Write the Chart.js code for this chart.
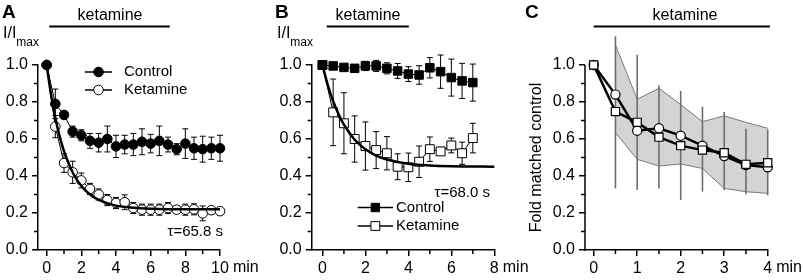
<!DOCTYPE html>
<html>
<head>
<meta charset="utf-8">
<script src="https://cdn.jsdelivr.net/npm/chart.js@4.4.1/dist/chart.umd.min.js"></script>
<style>
  body { margin: 0; background: #fff; }
  #wrap { position: relative; width: 803px; height: 280px; }
  #wrap canvas { position: absolute; left: 0; top: 0; }
</style>
</head>
<body>
<div id="wrap">
  <canvas id="chartA" width="803" height="280"></canvas>
  <canvas id="chartB" width="803" height="280"></canvas>
  <canvas id="chartC" width="803" height="280"></canvas>
</div>
<script>
// ---- Panel A: 10 min recording ----
const timeA = [0, 0.5, 1, 1.5, 2, 2.5, 3, 3.5, 4, 4.5, 5, 5.5, 6, 6.5, 7, 7.5, 8, 8.5, 9, 9.5, 10];
const ctrlA = [1.0, 0.79, 0.73, 0.64, 0.62, 0.59, 0.58, 0.60, 0.56, 0.57, 0.57, 0.585, 0.575, 0.59, 0.57, 0.545, 0.575, 0.55, 0.545, 0.55, 0.55];
const ctrlAErr = [0, 0.08, 0.02, 0.03, 0.03, 0.04, 0.05, 0.07, 0.06, 0.05, 0.06, 0.07, 0.05, 0.08, 0.04, 0.03, 0.08, 0.06, 0.07, 0.06, 0.07];
const ketA = [1.0, 0.667, 0.47, 0.42, 0.376, 0.33, 0.30, 0.27, 0.254, 0.258, 0.227, 0.218, 0.218, 0.218, 0.227, 0.218, 0.218, 0.22, 0.198, 0.215, 0.21];
const ketAErr = [0, 0.06, 0.05, 0.06, 0.04, 0.03, 0.03, 0.03, 0.03, 0.04, 0.03, 0.03, 0.03, 0.03, 0.03, 0.02, 0.03, 0.03, 0.04, 0.02, 0.02];
const fitTimeA = [0, 0.25, 0.5, 0.75, 1, 1.5, 2, 2.5, 3, 4, 5, 6, 8, 10];
const fitA = [1.0, 0.841, 0.714, 0.614, 0.534, 0.419, 0.346, 0.300, 0.271, 0.240, 0.228, 0.223, 0.220, 0.220];
const xTicksA = [0, 2, 4, 6, 8, 10];
const xMinorA = [1, 3, 5, 7, 9];

// ---- Panel B: 8 min recording ----
const timeB = [0, 0.5, 1, 1.5, 2, 2.5, 3, 3.5, 4, 4.5, 5, 5.5, 6, 6.5, 7];
const ctrlB = [1.0, 0.995, 0.987, 0.982, 0.995, 0.995, 0.982, 0.968, 0.951, 0.946, 0.985, 0.964, 0.932, 0.914, 0.905];
const ctrlBErr = [0.01, 0.015, 0.015, 0.02, 0.025, 0.03, 0.03, 0.04, 0.04, 0.05, 0.055, 0.09, 0.1, 0.095, 0.1];
const ketB = [1.0, 0.744, 0.685, 0.60, 0.562, 0.54, 0.523, 0.45, 0.447, 0.477, 0.545, 0.533, 0.565, 0.523, 0.605];
const ketBErr = [0, 0.18, 0.165, 0.125, 0.13, 0.1, 0.09, 0.07, 0.077, 0.085, 0.066, 0.015, 0.04, 0.06, 0.08];
const fitTimeB = [0, 0.25, 0.5, 0.75, 1, 1.5, 2, 2.5, 3, 4, 5, 6, 8];
const fitB = [1.0, 0.891, 0.804, 0.734, 0.678, 0.596, 0.544, 0.510, 0.489, 0.466, 0.457, 0.453, 0.450];
const xTicksB = [0, 2, 4, 6, 8];
const xMinorB = [1, 3, 5, 7];

// ---- Panel C: fold matched control ----
const timeC = [0, 0.5, 1, 1.5, 2, 2.5, 3, 3.5, 4];
const squaresC = [1.0, 0.748, 0.69, 0.61, 0.564, 0.54, 0.526, 0.463, 0.472];
const circlesC = [1.0, 0.84, 0.645, 0.658, 0.618, 0.564, 0.508, 0.459, 0.447];
const bandTimeC = [0.5, 1, 1.5, 2, 2.5, 3, 3.5, 4];
const bandUpperC = [1.108, 0.815, 0.874, 0.786, 0.694, 0.725, 0.69, 0.658];
const bandLowerC = [0.634, 0.49, 0.454, 0.465, 0.441, 0.333, 0.315, 0.306];
const whiskerTopC = [1.155, 1.056, 0.89, 0.86, 0.775, 0.746, 0.656, 0.652];
const whiskerBotC = [0.333, 0.324, 0.333, 0.27, 0.315, 0.324, 0.302, 0.295];
const xTicksC = [0, 1, 2, 3, 4];
const xMinorC = [0.5, 1.5, 2.5, 3.5];

const yTicks = [0, 0.2, 0.4, 0.6, 0.8, 1.0];
const yMinor = [0.1, 0.3, 0.5, 0.7, 0.9];

const FONT = "'Liberation Sans', Arial, sans-serif";
Chart.defaults.font.family = FONT;
Chart.defaults.font.size = 16;
Chart.defaults.color = '#000';

function pts(xs, ys) {
    return xs.map((x, i) => ({ x: x, y: ys[i] }));
}

function axes(xMin, xMax, xTicks, yWidth, yMax, yBorder) {
    return {
        x: {
            type: 'linear', min: xMin, max: xMax,
            afterBuildTicks: s => { s.ticks = xTicks.map(v => ({ value: v })); },
            afterFit: s => { s.height = 30; },
            ticks: { padding: 3, maxRotation: 0, autoSkip: false, callback: v => String(v) },
            grid: { display: true, drawOnChartArea: false, drawTicks: true, tickLength: 6, color: '#000', lineWidth: 1.5 },
            border: { display: true, color: '#000', width: 1.5 }
        },
        y: {
            type: 'linear', min: 0, max: yMax,
            afterBuildTicks: s => { s.ticks = yTicks.map(v => ({ value: v })); },
            afterFit: s => { s.width = yWidth; },
            ticks: { padding: 4, callback: v => v.toFixed(1) },
            grid: { display: true, drawOnChartArea: false, drawTicks: true, tickLength: 6, color: '#000', lineWidth: 1.5 },
            border: { display: yBorder, color: '#000', width: 1.5 }
        }
    };
}

// error bars drawn through the chart scales
function errPlugin(bars) {
    function draw(chart, list) {
        const ctx = chart.ctx, xs = chart.scales.x, ys = chart.scales.y;
        ctx.save();
        list.forEach(b => {
            ctx.strokeStyle = b.color;
            ctx.lineWidth = b.width;
            b.xs.forEach((t, i) => {
                if (b.hi[i] - b.lo[i] <= 0) return;
                const px = xs.getPixelForValue(t);
                const top = ys.getPixelForValue(b.hi[i]);
                const bot = ys.getPixelForValue(b.lo[i]);
                ctx.beginPath();
                ctx.moveTo(px, top); ctx.lineTo(px, bot);
                if (b.cap) {
                    ctx.moveTo(px - b.cap, top); ctx.lineTo(px + b.cap, top);
                    ctx.moveTo(px - b.cap, bot); ctx.lineTo(px + b.cap, bot);
                }
                ctx.stroke();
            });
        });
        ctx.restore();
    }
    return {
        id: 'errbars',
        beforeDatasetsDraw(chart) { draw(chart, bars.filter(b => b.after === undefined)); },
        afterDatasetDraw(chart, args) { draw(chart, bars.filter(b => b.after === args.index)); }
    };
}

function symErr(xs, vals, errs, color, cap) {
    return {
        xs: xs, color: color, width: 1, cap: cap,
        lo: vals.map((v, i) => v - errs[i]),
        hi: vals.map((v, i) => v + errs[i])
    };
}

function text(ctx, str, x, y, font, align, base) {
    ctx.font = font;
    ctx.fillStyle = '#000';
    ctx.textAlign = align || 'left';
    ctx.textBaseline = base || 'alphabetic';
    ctx.fillText(str, x, y);
}

function marker(ctx, kind, x, y, r, fill) {
    ctx.beginPath();
    if (kind === 'circle') ctx.arc(x, y, r, 0, Math.PI * 2);
    else ctx.rect(x - r, y - r, 2 * r, 2 * r);
    ctx.fillStyle = fill;
    ctx.fill();
    ctx.lineWidth = 1;
    ctx.strokeStyle = '#000';
    ctx.stroke();
}

function legendRow(ctx, x1, x2, y, kind, r, fill, label, tx) {
    ctx.beginPath();
    ctx.moveTo(x1, y); ctx.lineTo(x2, y);
    ctx.lineWidth = 1.5; ctx.strokeStyle = '#000'; ctx.stroke();
    marker(ctx, kind, (x1 + x2) / 2, y, r, fill);
    text(ctx, label, tx, y, '15px ' + FONT, 'left', 'middle');
}

function decorPlugin(xMinor, xMax, fn) {
    return {
        id: 'decor',
        afterDraw(chart) {
            const ctx = chart.ctx, xs = chart.scales.x, ys = chart.scales.y;
            const a = chart.chartArea;
            ctx.save();
            // minor ticks
            ctx.strokeStyle = '#000'; ctx.lineWidth = 1.5;
            ctx.beginPath();
            xMinor.forEach(v => {
                const px = xs.getPixelForValue(v);
                ctx.moveTo(px, a.bottom); ctx.lineTo(px, a.bottom + 4);
            });
            yMinor.forEach(v => {
                const py = ys.getPixelForValue(v);
                ctx.moveTo(a.left, py); ctx.lineTo(a.left - 4, py);
            });
            ctx.stroke();
            // unit after last tick label
            const lastLabel = String(xMax);
            ctx.font = '16px ' + FONT;
            const w = ctx.measureText(lastLabel).width;
            text(ctx, 'min', xs.getPixelForValue(xMax) + w / 2 + 4, a.bottom + 18, '16px ' + FONT, 'left', 'middle');
            fn(ctx, xs, ys, a);
            ctx.restore();
        }
    };
}

function drugBar(ctx, xs, t0, t1, y, tx) {
    ctx.beginPath();
    ctx.moveTo(xs.getPixelForValue(t0), y);
    ctx.lineTo(xs.getPixelForValue(t1), y);
    ctx.lineWidth = 2; ctx.strokeStyle = '#000'; ctx.stroke();
    text(ctx, 'ketamine', tx, y - 11, '16px ' + FONT, 'center', 'middle');
}

function yLabelI(ctx, x) {
    text(ctx, 'I/I', x, 38, '16px ' + FONT, 'left', 'alphabetic');
    ctx.font = '16px ' + FONT;
    const w = ctx.measureText('I/I').width;
    text(ctx, 'max', x + w, 46, '12px ' + FONT, 'left', 'alphabetic');
}

const common = {
    responsive: false,
    animation: false,
    events: [],
    plugins: { legend: { display: false }, tooltip: { enabled: false } }
};

// ---- Chart A ----
new Chart(document.getElementById('chartA'), {
    type: 'scatter',
    data: {
        datasets: [
            { data: pts(fitTimeA, fitA), showLine: true, borderColor: '#000', borderWidth: 2.5, pointRadius: 0, cubicInterpolationMode: 'monotone', order: 0, clip: false },
            { data: pts(timeA, ctrlA), showLine: true, borderColor: '#000', borderWidth: 1, pointRadius: 4.8, pointBackgroundColor: '#000', pointBorderColor: '#000', order: 1, clip: false },
            { data: pts(timeA, ketA), showLine: true, borderColor: '#000', borderWidth: 1, pointRadius: 4.8, pointBackgroundColor: '#fff', pointBorderColor: '#000', pointBorderWidth: 1, order: 2, clip: false }
        ]
    },
    options: Object.assign({}, common, {
        layout: { padding: { left: 0, right: 583, top: 65, bottom: 0 } },
        scales: axes(-0.5, 10, xTicksA, 38, 1, true)
    }),
    plugins: [
        errPlugin([symErr(timeA, ketA, ketAErr, '#000', 3), symErr(timeA, ctrlA, ctrlAErr, '#000', 3)]),
        decorPlugin(xMinorA, 10, (ctx, xs) => {
            text(ctx, 'A', 2, 18, 'bold 19px ' + FONT, 'left', 'alphabetic');
            drugBar(ctx, xs, 0.15, 7.1, 26.5, 110);
            yLabelI(ctx, 3);
            legendRow(ctx, 85, 112, 72, 'circle', 4.8, '#000', 'Control', 124);
            legendRow(ctx, 85, 112, 90, 'circle', 4.8, '#fff', 'Ketamine', 124);
            text(ctx, '\u03c4=65.8 s', 223, 232, '15px ' + FONT, 'right', 'middle');
        })
    ]
});

// ---- Chart B ----
new Chart(document.getElementById('chartB'), {
    type: 'scatter',
    data: {
        datasets: [
            { data: pts(fitTimeB, fitB), showLine: true, borderColor: '#000', borderWidth: 2.5, pointRadius: 0, cubicInterpolationMode: 'monotone', order: 0, clip: false },
            { data: pts(timeB, ctrlB), showLine: true, borderColor: '#000', borderWidth: 1, pointStyle: 'rect', pointRadius: 6, pointBackgroundColor: '#000', pointBorderColor: '#000', order: 1, clip: false },
            { data: pts(timeB, ketB), showLine: true, borderColor: '#000', borderWidth: 1, pointStyle: 'rect', pointRadius: 6.3, pointBackgroundColor: '#fff', pointBorderColor: '#000', pointBorderWidth: 1, order: 2, clip: false }
        ]
    },
    options: Object.assign({}, common, {
        layout: { padding: { left: 271.7, right: 308.7, top: 65, bottom: 0 } },
        scales: axes(-0.5, 8, xTicksB, 40, 1, true)
    }),
    plugins: [
        errPlugin([symErr(timeB, ketB, ketBErr, '#000', 3), symErr(timeB, ctrlB, ctrlBErr, '#000', 3)]),
        decorPlugin(xMinorB, 8, (ctx, xs) => {
            text(ctx, 'B', 275, 18, 'bold 19px ' + FONT, 'left', 'alphabetic');
            drugBar(ctx, xs, 0.2, 4.02, 26.5, 368);
            yLabelI(ctx, 277);
            legendRow(ctx, 357.7, 393, 207.5, 'rect', 4.2, '#000', 'Control', 396);
            legendRow(ctx, 357.7, 393, 226, 'rect', 4.4, '#fff', 'Ketamine', 396);
            text(ctx, '\u03c4=68.0 s', 490, 193, '15px ' + FONT, 'right', 'middle');
        })
    ]
});

// ---- Chart C ----
// y range goes to 1.2 so the shaded band above 1.0 is not clipped; the axis line stops at 1.0
new Chart(document.getElementById('chartC'), {
    type: 'scatter',
    data: {
        datasets: [
            { data: pts(bandTimeC, bandUpperC), showLine: true, borderColor: '#7a7a7a', borderWidth: 1, pointRadius: 0, fill: '+1', backgroundColor: '#d4d4d4', order: 11, clip: false },
            { data: pts(bandTimeC, bandLowerC), showLine: true, borderColor: '#7a7a7a', borderWidth: 1, pointRadius: 0, order: 10, clip: false },
            { data: pts(timeC, circlesC), showLine: true, borderColor: '#000', borderWidth: 2.5, pointRadius: 4.6, pointBackgroundColor: '#fff', pointBorderColor: '#000', pointBorderWidth: 1.2, order: 2, clip: false },
            { data: pts(timeC, squaresC), showLine: true, borderColor: '#000', borderWidth: 2.5, pointStyle: 'rect', pointRadius: 5.8, pointBackgroundColor: '#fff', pointBorderColor: '#000', pointBorderWidth: 1.2, order: 1, clip: false }
        ]
    },
    options: Object.assign({}, common, {
        layout: { padding: { left: 545, right: 35.3, top: 28, bottom: 0 } },
        scales: axes(-0.2, 4, xTicksC, 40, 1.2, false)
    }),
    plugins: [
        errPlugin([{ xs: bandTimeC, lo: whiskerBotC, hi: whiskerTopC, color: '#6e6e6e', width: 1.6, cap: 0, after: 1 }]),
        decorPlugin(xMinorC, 4, (ctx, xs, ys, a) => {
            ctx.beginPath();
            ctx.moveTo(a.left, ys.getPixelForValue(0) + 0.75);
            ctx.lineTo(a.left, ys.getPixelForValue(1.0));
            ctx.lineWidth = 1.5; ctx.strokeStyle = '#000'; ctx.stroke();
            text(ctx, 'C', 525, 18, 'bold 19px ' + FONT, 'left', 'alphabetic');
            drugBar(ctx, xs, 0, 4.05, 26.5, 685);
            ctx.save();
            ctx.translate(537, 157.5);
            ctx.rotate(-Math.PI / 2);
            text(ctx, 'Fold matched control', 0, 0, '16px ' + FONT, 'center', 'middle');
            ctx.restore();
        })
    ]
});
</script>
</body>
</html>
